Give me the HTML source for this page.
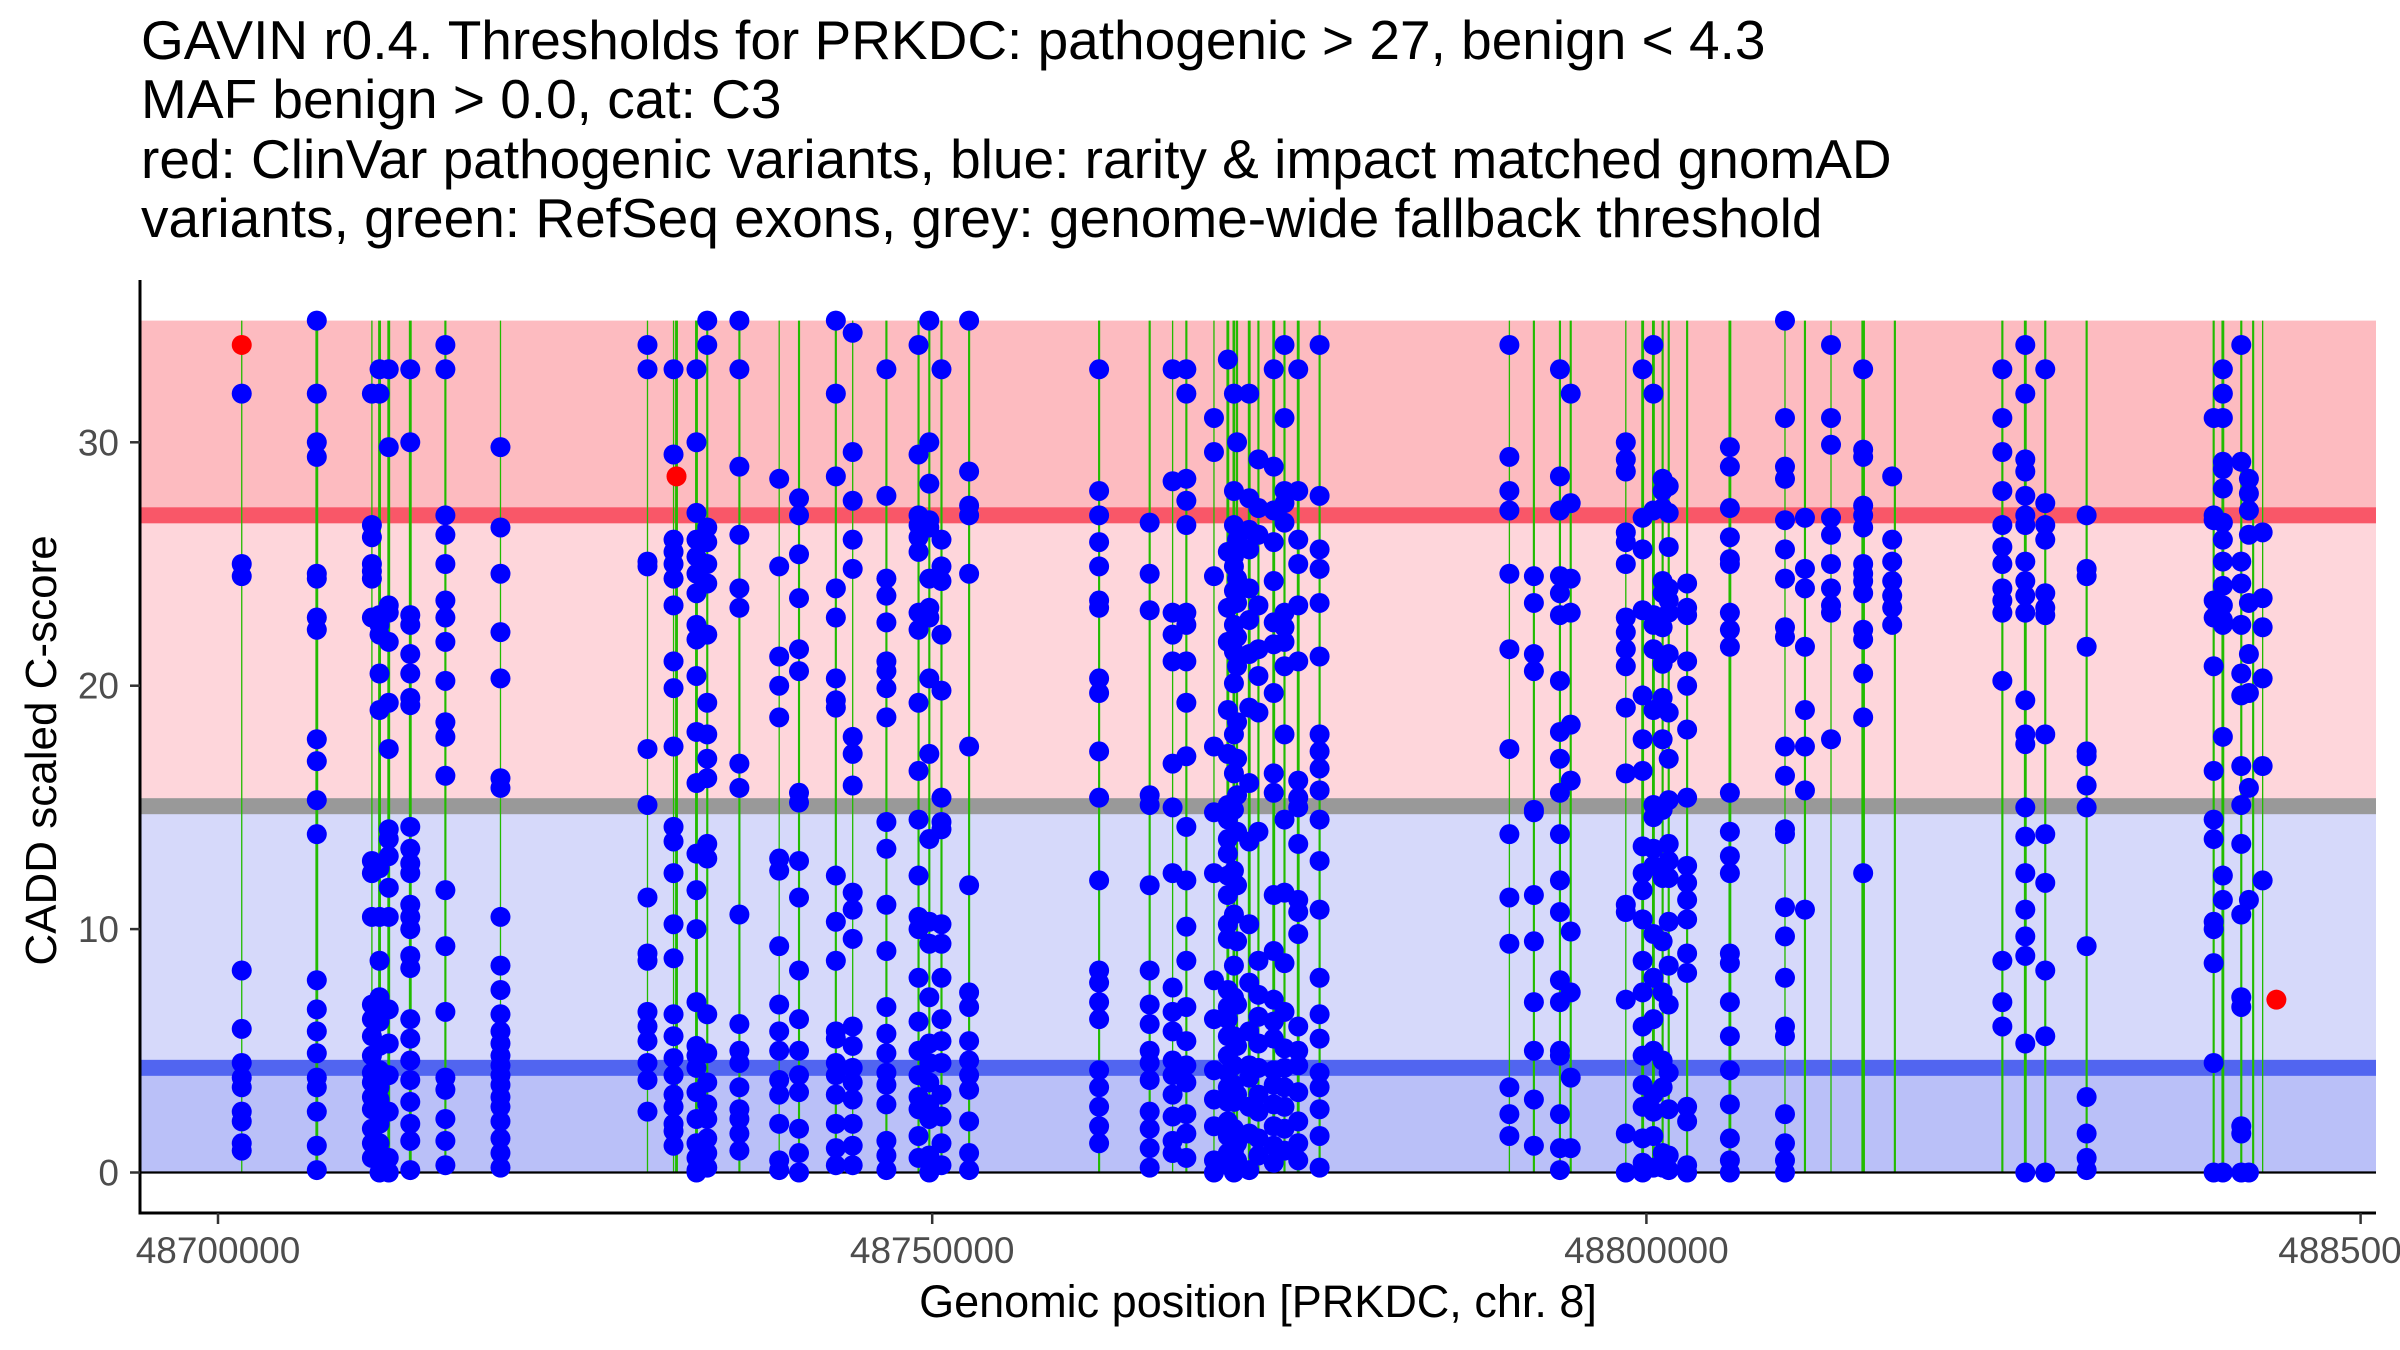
<!DOCTYPE html>
<html><head><meta charset="utf-8">
<style>
html,body{margin:0;padding:0;background:#fff;}
body{width:2400px;height:1350px;overflow:hidden;position:relative;font-family:"Liberation Sans",Arial,sans-serif;}
.title{position:absolute;left:141px;top:11px;font-size:55px;line-height:59.3px;color:#000;white-space:nowrap;}
svg{position:absolute;left:0;top:0;}
</style></head>
<body>
<div class="title">GAVIN r0.4. Thresholds for PRKDC: pathogenic &gt; 27, benign &lt; 4.3<br>MAF benign &gt; 0.0, cat: C3<br>red: ClinVar pathogenic variants, blue: rarity &amp; impact matched gnomAD<br>variants, green: RefSeq exons, grey: genome-wide fallback threshold</div>
<svg id="chart" width="2400" height="1350"></svg>
<script>
// ---- data ----
const yTicks = [0, 10, 20, 30];
const xTicks = [48700000, 48750000, 48800000, 48850000];
const xTickLabels = ["48700000", "48750000", "48800000", "48850000"];
const pathogenicThreshold = 27;
const benignThreshold = 4.3;
const fallbackThreshold = 15.05;
const exonPos = [48701662,48706917,48710774,48711309,48711954,48713461,48715919,48719776,48730068,48731892,48732100,48733498,48734252,48736502,48739288,48740676,48743254,48744434,48746794,48749044,48749798,48750650,48752584,48761685,48765225,48766831,48767793,48769726,48770698,48771124,48771342,48772195,48772839,48773910,48774663,48775625,48777122,48790408,48792123,48793947,48794701,48798558,48799738,48800491,48801136,48801562,48802851,48805845,48809702,48811100,48812924,48815175,48817395,48824920,48826526,48827924,48830820,48839713,48840357,48841646,48842478,48843143];
const exonLen = [60,200,60,200,200,200,150,60,60,60,200,200,150,150,60,150,150,60,150,150,150,150,150,150,150,60,150,60,200,200,150,200,150,200,150,200,150,60,150,150,150,60,200,200,150,150,150,200,60,150,60,250,150,150,200,150,150,150,200,150,150,60];
const bluePos = [48701662,48706917,48710774,48711309,48711954,48713461,48715919,48719776,48730068,48731892,48733498,48734252,48736502,48739288,48740676,48743254,48744434,48746794,48749044,48749798,48750650,48752584,48761685,48765225,48766831,48767793,48769726,48770698,48771124,48771342,48772195,48772839,48773910,48774663,48775625,48777122,48790408,48792123,48793947,48794701,48798558,48799738,48800491,48801136,48801562,48802851,48805845,48809702,48811100,48812924,48815175,48817208,48824920,48826526,48827924,48830820,48839713,48840357,48841646,48842181,48843143];
const blueScores = [
[32,25,24.5,8.3,5.9,4.5,3.9,3.5,2.5,2.1,1.2,0.9],
[35,32,30,29.4,24.6,24.4,22.8,22.3,17.8,16.9,15.3,13.9,7.9,6.7,5.8,4.9,3.9,3.5,2.5,1.1,0.1],
[32,26.6,26.1,25,24.7,24.4,22.8,12.8,12.3,10.5,6.9,6.3,5.6,4.8,4.1,3.7,3.1,2.6,1.8,1.2,0.6],
[33,32,22.9,22.5,22.1,20.5,19,12.5,10.5,8.7,7.2,6.2,5.2,4.2,3.5,3,2,1.2,0],
[33,29.8,23.3,23,21.8,19.3,17.4,14.1,13.7,13,11.7,10.5,6.7,5.3,4,2.5,0.6,0],
[33,30,22.9,22.5,21.3,20.5,19.5,19.2,14.2,13.3,12.7,12.3,11,10.5,10,8.9,8.4,6.3,5.5,4.6,3.8,2.9,2,1.3,0.1],
[34,33,27,26.2,25,23.5,22.8,21.8,20.2,18.5,17.9,16.3,11.6,9.3,6.6,3.9,3.4,2.2,1.3,0.3],
[29.8,26.5,24.6,22.2,20.3,16.2,15.8,10.5,8.5,7.5,6.5,5.8,5.3,4.8,4.4,4,3.6,3.1,2.7,2.1,1.4,0.8,0.2],
[34,33,25.1,24.9,17.4,15.1,11.3,9,8.7,6.6,6,5.4,4.5,3.8,2.5],
[33,29.5,26,25.5,25,24.4,23.3,21,19.9,17.5,14.2,13.6,12.3,10.2,8.8,6.5,5.6,4.7,4,3.2,2.7,2,1.7,1.1],
[33,30,27.1,26,25.3,24.6,23.8,22.5,21.9,20.4,18.1,16,13.1,11.6,10,7,5.2,4.8,4.3,3.3,2.2,1.2,0.6,0.1,0],
[35,34,26.5,25.9,25,24.2,22.1,19.3,18,17,16.2,13.5,12.9,6.5,4.9,3.7,2.8,2.2,1.4,0.8,0.2],
[35,33,29,26.2,24,23.2,16.8,15.8,10.6,6.1,5,4.5,3.5,2.6,2.2,1.6,0.9],
[28.5,24.9,21.2,20,18.7,12.9,12.4,9.3,6.9,5.8,5,3.8,3.2,2,0.5,0.1],
[27.7,27,25.4,23.6,21.5,20.6,15.6,15.2,12.8,11.3,8.3,6.3,5,4,3.3,1.8,0.8,0],
[35,32,28.6,24,22.8,20.3,19.4,19.1,12.2,10.3,8.7,5.8,5.5,4.5,4,3.2,2,1,0.3],
[34.5,29.6,27.6,26,24.8,17.9,17.2,15.9,11.5,10.8,9.6,6,5.2,4.3,3.7,3,2,1.1,0.3],
[33,27.8,24.4,23.7,22.6,21,20.6,19.9,18.7,14.4,13.3,11,9.1,6.8,5.7,4.9,4.1,3.6,2.8,1.3,0.7,0.1],
[34,29.5,27,26.6,26.1,25.5,23,22.3,19.3,16.5,14.5,12.2,10.5,10,8,6.2,5,4,3.1,2.6,1.5,0.6],
[35,30,28.3,26.8,26.5,24.4,23.2,22.8,20.3,17.2,13.7,10.3,9.4,7.2,5.3,4.5,3.7,2.8,2.2,0.7,0],
[33,26,24.9,24.3,22.1,19.8,15.4,14.4,14.1,10.2,9.4,8,6.3,5.4,4.5,3.2,2.3,1.2,0.3],
[35,28.8,27.4,27,24.6,17.5,11.8,7.4,6.8,5.4,4.6,4,3.4,2.1,0.8,0.1],
[33,28,27,25.9,24.9,23.5,23.2,20.3,19.7,17.3,15.4,12,8.3,7.8,7,6.3,4.2,3.5,2.7,1.9,1.2],
[26.7,24.6,23.1,15.5,15.1,11.8,8.3,6.9,6.1,5,4.5,3.8,2.5,1.8,1,0.2],
[33,28.4,23,22.1,21,16.8,15,12.3,7.6,6.6,5.8,4.6,4,3.2,2.3,1.3,0.8],
[33,32,28.5,27.6,26.6,23,22.5,21,19.3,17.1,14.2,12,10.1,8.7,6.8,5.4,4.4,3.7,2.4,1.6,0.6],
[31,29.6,24.5,17.5,14.8,12.3,7.9,6.3,4.2,3,1.9,0.5,0],
[33.4,25.5,23.2,21.8,19,17.2,15.1,14.5,13.7,13.1,12.2,11.4,10.2,9.6,7.5,6.8,6.3,5.6,4.8,4.1,3.5,2.9,2.1,1.5,0.8,0.3],
[32,28,26.6,25.3,24.9,23.9,22.5,21.4,20.1,18,16.4,14.9,12.4,10.6,8.5,7.2,5.6,4.4,3.6,2.9,1.8,0.9,0.2,0],
[30,26,24.4,23.4,22,20.8,18.5,17,15.5,14,11.8,9.5,6.9,5.2,3.2,1.2,0.5],
[32,27.7,26.4,25.6,24,22.7,21.3,19.1,16,13.6,10.2,7.8,5.8,4.4,3.9,2.7,1.6,0.1],
[29.3,27.3,26.2,23.3,21.5,20.4,18.9,14,8.7,7.3,6.4,5.3,4.3,3.2,2.5,1.4,0.7],
[33,29,27.2,25.9,24.3,22.6,21.7,19.7,16.4,15.6,11.4,9.1,7.1,6.2,5.5,4.2,3.6,2.8,1.9,1.1,0.4],
[34,31,28,27.5,26.7,23,22.4,21.8,20.8,18,14.5,11.5,8.6,6.6,5.1,4.3,3.5,2.7,1.8,0.9],
[33,28,26,25,23.3,21,16.1,15.4,15,13.5,11.2,10.7,9.8,6,5,4.4,3.3,2.1,1.2,0.5],
[34,27.8,25.6,24.8,23.4,21.2,18,17.3,16.6,15.7,14.5,12.8,10.8,8,6.5,5.5,4.1,3.5,2.6,1.5,0.2],
[34,29.4,28,27.2,24.6,21.5,17.4,13.9,11.3,9.4,3.5,2.4,1.5],
[24.5,23.4,21.3,20.6,14.9,14.8,11.4,9.5,7,5,3,1.1],
[33,28.6,27.2,24.5,23.8,22.9,20.2,18.1,17,15.6,13.9,12,10.7,7.9,7,5,4.8,2.4,1,0.1],
[32,27.5,24.4,23,18.4,16.1,9.9,7.4,3.9,1],
[30,29.3,28.8,26.3,25.9,25,22.8,22.2,21.5,20.8,19.1,16.4,11,10.7,7.1,1.6,0],
[33,26.9,25.6,23.1,19.6,17.8,16.5,13.4,12.3,11.6,10.4,8.7,7.4,6,4.8,3.6,2.7,1.4,0.4,0],
[34,32,27.2,22.9,22.5,21.5,19,15.1,14.6,13.3,12.6,9.8,8,6.3,5,3.2,2.5,1.5,0.2],
[28.5,28,27.3,24.3,23.8,22.4,20.9,19.5,17.8,14.9,12.1,9.5,7.4,4.6,3.5,0.8,0.2],
[28.2,27.1,25.7,24,23.5,23,21.3,18.9,17,15.3,13.5,12.8,12.1,10.3,8.5,6.9,4.1,2.6,0.7,0.1],
[24.2,23.2,22.9,21,20,18.2,15.4,12.6,11.9,11.2,10.4,9,8.2,2.7,2.1,0.3,0],
[29.8,29,27.3,26.1,25.2,25,23,22.3,21.6,15.6,14,13,12.3,9,8.6,7,5.6,4.2,2.8,1.4,0.5,0],
[35,31,29,28.5,26.8,25.6,24.4,22.4,22,17.5,16.3,14.1,13.9,10.9,9.7,8,6,5.6,2.4,1.2,0.5,0],
[26.9,24.8,24,21.6,19,17.5,15.7,10.8],
[34,31,29.9,26.9,26.2,25,24,23.3,23,17.8],
[33,29.7,29.4,27.4,27,26.5,25,24.6,24.3,23.8,22.3,21.9,20.5,18.7,12.3],
[28.6,26,25.1,24.3,23.7,23.2,22.5],
[33,31,29.6,28,26.6,25.7,25,24,23.5,23,20.2,8.7,7,6],
[34,32,29.3,28.8,27.8,27,26.6,25.1,24.3,23.7,23,19.4,18,17.6,15,13.8,12.3,10.8,9.7,8.9,5.3,0],
[33,27.5,26.6,26,23.8,23.2,22.9,18,13.9,11.9,8.3,5.6,0],
[27,24.8,24.5,21.6,17.3,17.1,15.9,15,9.3,3.1,1.6,0.6,0.1],
[31,27,26.8,23.5,22.8,20.8,16.5,14.5,13.7,10.3,10,8.6,4.5,0],
[33,32,31,29.2,28.9,28.1,26.7,26,25.1,24.1,23.3,22.7,22.5,17.9,12.2,11.2,0],
[34,29.2,25.1,24.2,22.5,20.5,19.6,16.7,15.1,13.5,10.6,7.2,6.8,1.9,1.6,0],
[28.5,27.9,27.2,26.2,23.4,21.3,19.7,15.8,11.2,0],
[26.3,23.6,22.4,20.3,16.7,12]
];
const redPos = [48701662, 48732100, 48844104];
const redScores = [34, 28.6, 7.1];

// ---- scales ----
const PL = 140, PR = 2376, PT = 280, PB = 1213;
const X0 = 48700000, X0px = 218, PXPERBP = 714.2 / 50000;
function xs(v){ return X0px + (v - X0) * PXPERBP; }
const Y0px = 1172.5, PXPERUNIT = 24.34;
function ys(v){ return Y0px - v * PXPERUNIT; }

const NS = "http://www.w3.org/2000/svg";
const svg = document.getElementById("chart");
function mk(tag, attrs, parent){
  const e = document.createElementNS(NS, tag);
  for (const k in attrs) e.setAttribute(k, attrs[k]);
  (parent || svg).appendChild(e);
  return e;
}
const clipDefs = mk("defs", {});
const cp = mk("clipPath", {id:"pc"}, clipDefs);
mk("rect", {x:PL, y:PT, width:PR-PL, height:PB-PT}, cp);
const plot = mk("g", {"clip-path":"url(#pc)"});



let b;
b = mk("rect", {x:PL, y:ys(35), width:PR-PL, height:ys(pathogenicThreshold)-ys(35), fill:"#fdbbc0"}, plot);


b = mk("rect", {x:PL, y:ys(pathogenicThreshold), width:PR-PL, height:ys(fallbackThreshold)-ys(pathogenicThreshold), fill:"#fed6db"}, plot);


b = mk("rect", {x:PL, y:ys(fallbackThreshold), width:PR-PL, height:ys(benignThreshold)-ys(fallbackThreshold), fill:"#d6d9fa"}, plot);


b = mk("rect", {x:PL, y:ys(benignThreshold), width:PR-PL, height:ys(0)-ys(benignThreshold), fill:"#bac0f8"}, plot);


b = mk("rect", {x:PL, y:ys(pathogenicThreshold)-8, width:PR-PL, height:16, fill:"#f95768"}, plot);


b = mk("rect", {x:PL, y:ys(fallbackThreshold)-8, width:PR-PL, height:16, fill:"#999999"}, plot);


b = mk("rect", {x:PL, y:ys(benignThreshold)-8, width:PR-PL, height:16, fill:"#5165f0"}, plot);



exonPos.forEach((p, i) => {
  const w = Math.max(1.3, exonLen[i] * PXPERBP);
  const r = mk("rect", {x:xs(p)-w/2, y:ys(35), width:w, height:ys(0)-ys(35), fill:"#22bb00"}, plot);
  
  
});
const zl = mk("line", {x1:PL, x2:PR, y1:ys(0), y2:ys(0), stroke:"#000", "stroke-width":2.2}, plot);



bluePos.forEach((p, i) => {
  blueScores[i].forEach(s => {
    const c = mk("circle", {cx:xs(p), cy:ys(s), r:10, fill:"#0000ff"}, plot);
    
    
  });
});
redPos.forEach((p, i) => {
  const c = mk("circle", {cx:xs(p), cy:ys(redScores[i]), r:10, fill:"#ff0000"});
  
  
});

const ya = mk("line", {x1:PL, x2:PL, y1:PT, y2:PB+1.5, stroke:"#000", "stroke-width":3});


const xa = mk("line", {x1:PL-1.5, x2:PR, y1:PB, y2:PB, stroke:"#000", "stroke-width":3});



yTicks.forEach(t => {
  const tk = mk("line", {x1:PL-10, x2:PL, y1:ys(t), y2:ys(t), stroke:"#333", "stroke-width":2.5});
  
  
  const tx = mk("text", {x:PL-21, y:ys(t)+13, "text-anchor":"end", "font-size":37, fill:"#4d4d4d", "font-family":"Liberation Sans, sans-serif"});
  tx.textContent = String(t);
  
  
});
xTicks.forEach((t, i) => {
  const tk = mk("line", {x1:xs(t), x2:xs(t), y1:PB, y2:PB+11, stroke:"#333", "stroke-width":2.5});
  
  
  const tx = mk("text", {x:xs(t), y:1263, "text-anchor":"middle", "font-size":37, fill:"#4d4d4d", "font-family":"Liberation Sans, sans-serif"});
  tx.textContent = xTickLabels[i];
  
  
});
const xt = mk("text", {x:(PL+PR)/2, y:1317, "text-anchor":"middle", "font-size":45, fill:"#000", "font-family":"Liberation Sans, sans-serif"});
xt.textContent = "Genomic position [PRKDC, chr. 8]";


const yt = mk("text", {x:0, y:0, "text-anchor":"middle", "font-size":44, fill:"#000", "font-family":"Liberation Sans, sans-serif", transform:"translate(56," + ((PT+PB)/2 + 4) + ") rotate(-90)"});
yt.textContent = "CADD scaled C-score";


</script>
</body></html>
